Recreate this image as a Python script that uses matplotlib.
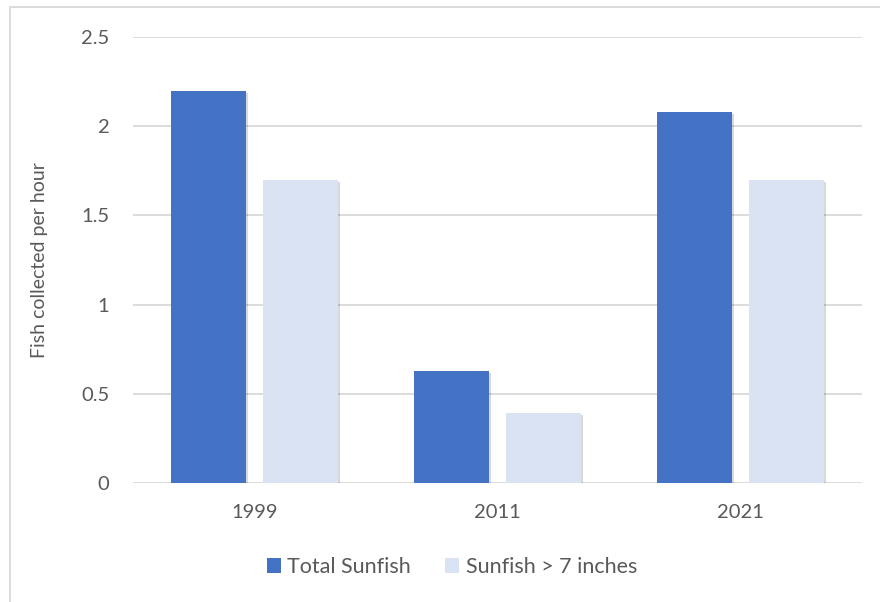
import matplotlib.pyplot as plt
import matplotlib.patheffects as pe
import numpy as np
from matplotlib.patches import Rectangle

years = ["1999", "2011", "2021"]
total_sunfish = [2.2, 0.63, 2.08]
sunfish_over_7 = [1.70, 0.39, 1.70]
y_ticks = [0, 0.5, 1, 1.5, 2, 2.5]
y_tick_labels = ["0", "0.5", "1", "1.5", "2", "2.5"]

plt.rcParams['font.family'] = ['Lato', 'DejaVu Sans']
text_color = "#595959"

fig = plt.figure(figsize=(8.8, 6.02), dpi=100)
ax = fig.add_axes([0.151, 0.1977, 0.8285, 0.7408])

x = np.arange(len(years))
width = 0.31
offset = 0.19
shadow = [pe.SimplePatchShadow(offset=(1.5, -1.5), shadow_rgbFace="#000000", alpha=0.15), pe.Normal()]

b1 = ax.bar(x - offset, total_sunfish, width, color="#4472C4", label="Total Sunfish", zorder=3)
b2 = ax.bar(x + offset, sunfish_over_7, width, color="#DAE3F3", label="Sunfish > 7 inches", zorder=3)
for bar in list(b1) + list(b2):
    bar.set_path_effects(shadow)

ax.set_xlim(-0.5, 2.5)
ax.set_ylim(0, 2.5)
ax.set_yticks(y_ticks)
ax.set_yticklabels(y_tick_labels)
ax.set_xticks(x)
ax.set_xticklabels(years)
ax.tick_params(axis="both", length=0, labelsize=14.5, colors=text_color)
ax.tick_params(axis="y", pad=17)
ax.tick_params(axis="x", pad=15)
ax.yaxis.grid(True, color="#D9D9D9", linewidth=1.3, zorder=0)
ax.set_axisbelow(True)
for s in ax.spines.values():
    s.set_visible(False)

ax.set_ylabel("Fish collected per hour", fontsize=14, color=text_color, labelpad=24)

leg = fig.legend(handles=[b1, b2], loc="center", bbox_to_anchor=(452 / 880, 0.058), ncol=2,
                 frameon=False, fontsize=15.5, labelcolor=text_color, handlelength=0.65,
                 handleheight=0.65, handletextpad=0.3, columnspacing=1.6)
for h in leg.legend_handles:
    h.set_path_effects([])

# chart area border
fig.patches.append(Rectangle((10 / 880, -0.01), 1.0, 1 - 7 / 602 + 0.01, transform=fig.transFigure,
                             fill=False, edgecolor="#D9D9D9", linewidth=1.3))

fig.savefig("out.png", dpi=100)
